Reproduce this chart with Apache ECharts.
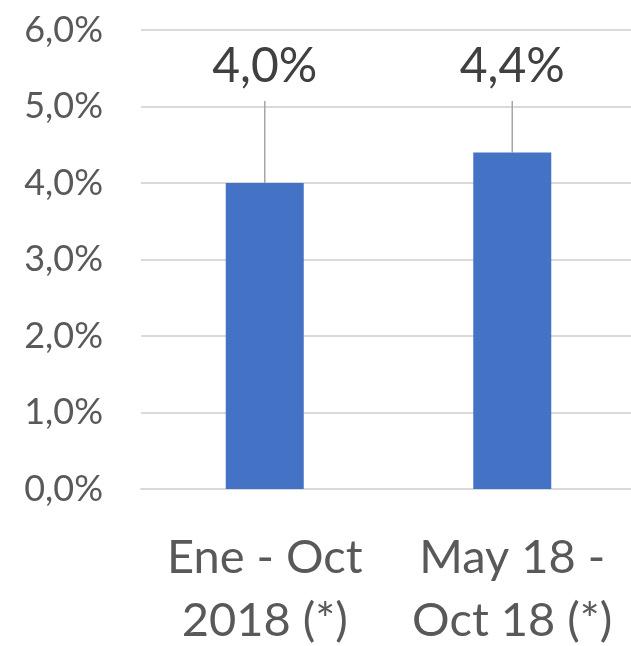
<!DOCTYPE html>
<html><head><meta charset="utf-8">
<script src="https://cdn.jsdelivr.net/npm/echarts@6/dist/echarts.min.js"></script>
<style>html,body{margin:0;padding:0;background:#fff}#c{width:631px;height:646px}</style>
</head><body><div id="c"></div>
<script>
const categories = ['Ene - Oct\n2018 (*)', 'May 18 -\nOct 18 (*)'];
const values = [4.0, 4.4];
const yTicks = { min: 0, max: 6, interval: 1 };
const FONT = 'Lato';
const fmt = v => v.toFixed(1).replace('.', ',') + '%';
const chart = echarts.init(document.getElementById('c'));
chart.setOption({
  animation: false,
  grid: { left: 141, right: -5, top: 30, bottom: 157, outerBoundsMode: 'none', containLabel: false },
  xAxis: {
    type: 'category', data: categories,
    axisLine: { show: true, lineStyle: { color: '#d9d9d9', width: 2 } },
    axisTick: { show: false },
    axisLabel: { fontFamily: FONT, fontSize: 47, color: '#595959', lineHeight: 63, margin: 37, interval: 0 }
  },
  yAxis: {
    type: 'value', min: yTicks.min, max: yTicks.max, interval: yTicks.interval,
    axisLine: { show: false }, axisTick: { show: false },
    splitLine: { lineStyle: { color: '#d9d9d9', width: 2 } },
    axisLabel: { fontFamily: FONT, fontSize: 36, color: '#595959', margin: 38, formatter: fmt }
  },
  series: [{
    type: 'bar', data: values, barWidth: 78,
    itemStyle: { color: '#4472c4' },
    label: {
      show: true, position: 'top', fontFamily: FONT, fontSize: 48, color: '#404040',
      lineHeight: 68,
      formatter: p => fmt(p.value)
    },
    labelLayout: p => ({ y: 67, verticalAlign: 'middle', align: 'center' }),
    labelLine: { show: true, lineStyle: { color: '#a6a6a6', width: 1.5 } }
  }]
});
</script></body></html>
